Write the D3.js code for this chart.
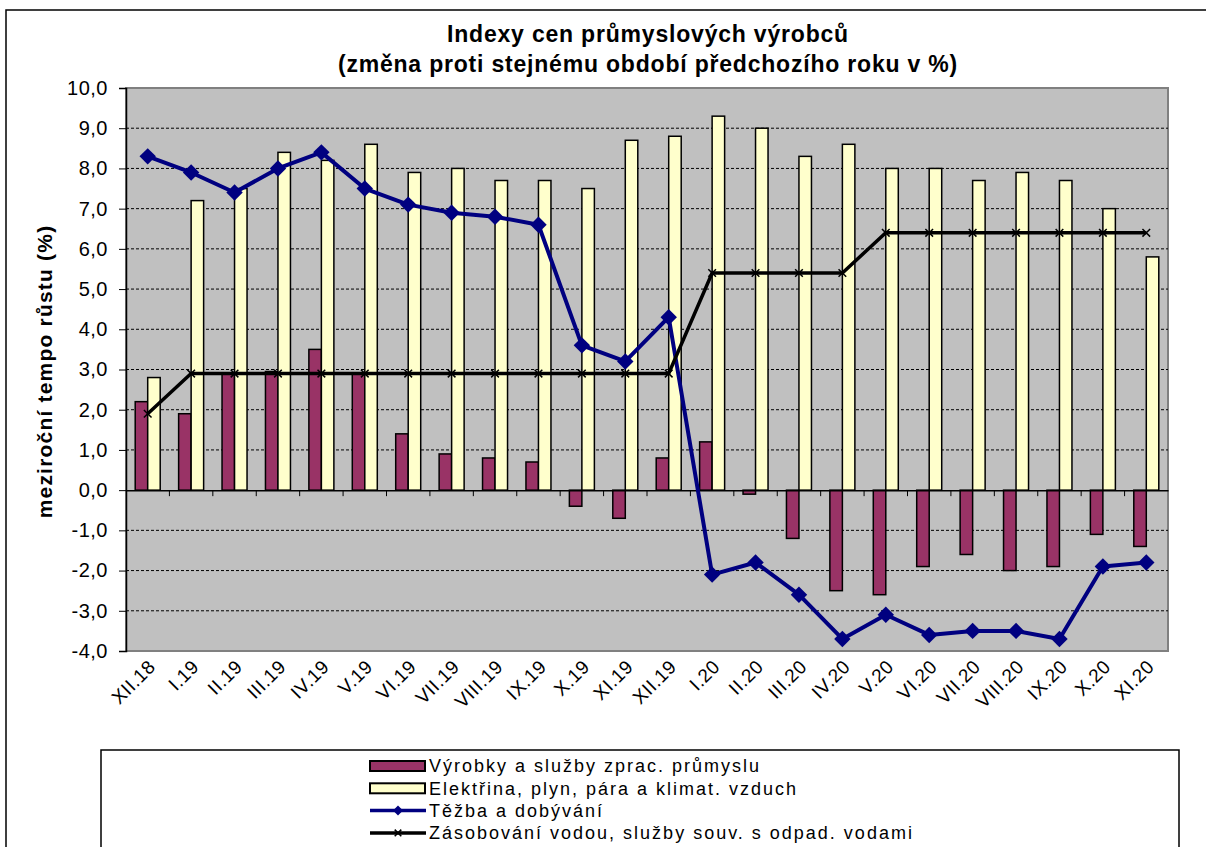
<!DOCTYPE html>
<html>
<head>
<meta charset="utf-8">
<script src="https://cdn.jsdelivr.net/npm/d3@7"></script>
<style>
  body { margin: 0; background: #fff; }
  text { font-family: "Liberation Sans", Arial, sans-serif; fill: #000; }
</style>
</head>
<body>
<div id="chart"></div>
<script>
// data
const months = ["XII.18", "I.19", "II.19", "III.19", "IV.19", "V.19", "VI.19", "VII.19", "VIII.19", "IX.19", "X.19", "XI.19",
    "XII.19", "I.20", "II.20", "III.20", "IV.20", "V.20", "VI.20", "VII.20", "VIII.20", "IX.20", "X.20", "XI.20"];
const vyrobky = [2.2, 1.9, 2.9, 2.95, 3.5, 2.9, 1.4, 0.9, 0.8, 0.7, -0.4, -0.7,
    0.8, 1.2, -0.1, -1.2, -2.5, -2.6, -1.9, -1.6, -2.0, -1.9, -1.1, -1.4];
const elektrina = [2.8, 7.2, 7.5, 8.4, 8.2, 8.6, 7.9, 8.0, 7.7, 7.7, 7.5, 8.7,
    8.8, 9.3, 9.0, 8.3, 8.6, 8.0, 8.0, 7.7, 7.9, 7.7, 7.0, 5.8];
const tezba = [8.3, 7.9, 7.4, 8.0, 8.4, 7.5, 7.1, 6.9, 6.8, 6.6, 3.6, 3.2,
    4.3, -2.1, -1.8, -2.6, -3.7, -3.1, -3.6, -3.5, -3.5, -3.7, -1.9, -1.8];
const voda = [1.9, 2.9, 2.9, 2.9, 2.9, 2.9, 2.9, 2.9, 2.9, 2.9, 2.9, 2.9,
    2.9, 5.4, 5.4, 5.4, 5.4, 6.4, 6.4, 6.4, 6.4, 6.4, 6.4, 6.4];
const yTicks = [-4, -3, -2, -1, 0, 1, 2, 3, 4, 5, 6, 7, 8, 9, 10];
const seriesNames = ["Výrobky a služby zprac. průmyslu", "Elektřina, plyn, pára a klimat. vzduch",
    "Těžba a dobývání", "Zásobování vodou, služby souv. s odpad. vodami"];
const titleLines = ["Indexy cen průmyslových výrobců", "(změna proti stejnému období předchozího roku v %)"];
const yTitle = "meziroční tempo růstu (%)";

const W = 1206, H = 847;
const plot = { left: 126, right: 1168, top: 88, bottom: 651 };
const colors = { vyrobky: "#993366", elektrina: "#FFFFCC", tezba: "#000080", voda: "#000000" };

const svg = d3.select("#chart")
    .append("svg")
    .attr("width", W)
    .attr("height", H);

// outer frame
svg.append("rect")
    .attr("x", 6).attr("y", 10)
    .attr("width", W + 20).attr("height", H + 20)
    .attr("fill", "#fff")
    .attr("stroke", "#000")
    .attr("stroke-width", 1.5);

// scales
const x = d3.scaleBand()
    .domain(months)
    .range([plot.left, plot.right]);

const y = d3.scaleLinear()
    .domain([-4, 10])
    .range([plot.bottom, plot.top]);

const cx = d => x(d) + x.bandwidth() / 2;
const barW = 12.5;

// plot background
svg.append("rect")
    .attr("x", plot.left).attr("y", plot.top)
    .attr("width", plot.right - plot.left)
    .attr("height", plot.bottom - plot.top)
    .attr("fill", "#C0C0C0")
    .attr("stroke", "#808080")
    .attr("stroke-width", 2);

// dashed gridlines
svg.append("g")
    .selectAll("line")
    .data(yTicks.filter(v => v !== 0 && v !== -4 && v !== 10))
    .join("line")
    .attr("x1", plot.left).attr("x2", plot.right)
    .attr("y1", d => y(d)).attr("y2", d => y(d))
    .attr("stroke", "#000")
    .attr("stroke-width", 1)
    .attr("stroke-dasharray", "3,2");

// Y axis
const yAxis = svg.append("g")
    .attr("transform", `translate(${plot.left},0)`)
    .call(d3.axisLeft(y)
        .tickValues(yTicks)
        .tickSize(7)
        .tickPadding(11)
        .tickFormat(d => d3.format(".1f")(d).replace(".", ",").replace("−", "-")));
yAxis.select(".domain").attr("stroke", "#000").attr("stroke-width", 1.5);
yAxis.selectAll(".tick line").attr("stroke", "#000");
yAxis.selectAll("text")
    .style("font-size", "20px")
    .style("letter-spacing", "0.5px")
    .style("font-family", "Liberation Sans, Arial, sans-serif")
    .attr("fill", "#000");

// bars
svg.append("g")
    .selectAll("rect")
    .data(months)
    .join("rect")
    .attr("x", (d, i) => cx(d) - barW)
    .attr("y", (d, i) => y(Math.max(0, vyrobky[i])))
    .attr("width", barW)
    .attr("height", (d, i) => Math.abs(y(vyrobky[i]) - y(0)))
    .attr("fill", colors.vyrobky)
    .attr("stroke", "#000")
    .attr("stroke-width", 1.5);

svg.append("g")
    .selectAll("rect")
    .data(months)
    .join("rect")
    .attr("x", (d, i) => cx(d))
    .attr("y", (d, i) => y(Math.max(0, elektrina[i])))
    .attr("width", barW)
    .attr("height", (d, i) => Math.abs(y(elektrina[i]) - y(0)))
    .attr("fill", colors.elektrina)
    .attr("stroke", "#000")
    .attr("stroke-width", 1.5);

// X axis at zero
const xAxis = svg.append("g")
    .attr("transform", `translate(0,${y(0)})`)
    .call(d3.axisBottom(x).tickSize(0).tickFormat(""));
xAxis.select(".domain").attr("stroke", "#000").attr("stroke-width", 1.5);

svg.append("g")
    .selectAll("line")
    .data(months.slice(1))
    .join("line")
    .attr("x1", d => x(d)).attr("x2", d => x(d))
    .attr("y1", y(0)).attr("y2", y(0) + 6)
    .attr("stroke", "#000");

// X labels below plot
svg.append("g")
    .selectAll("text")
    .data(months)
    .join("text")
    .attr("transform", d => `translate(${cx(d) + 9},${plot.bottom + 17}) rotate(-45)`)
    .attr("text-anchor", "end")
    .style("font-size", "19px")
    .style("letter-spacing", "0.5px")
    .text(d => d);

// lines
const line = d3.line()
    .x((d, i) => cx(months[i]))
    .y(d => y(d));

svg.append("path")
    .datum(tezba)
    .attr("d", line)
    .attr("fill", "none")
    .attr("stroke", colors.tezba)
    .attr("stroke-width", 4)
    .attr("stroke-linejoin", "round");

svg.append("g")
    .selectAll("path")
    .data(tezba)
    .join("path")
    .attr("d", d3.symbol(d3.symbolSquare, 135))
    .attr("transform", (d, i) => `translate(${cx(months[i])},${y(d)}) rotate(45)`)
    .attr("fill", colors.tezba);

svg.append("path")
    .datum(voda)
    .attr("d", line)
    .attr("fill", "none")
    .attr("stroke", colors.voda)
    .attr("stroke-width", 3.5);

svg.append("g")
    .selectAll("path")
    .data(voda)
    .join("path")
    .attr("d", d3.symbol(d3.symbolTimes || d3.symbolCross, 40))
    .attr("transform", (d, i) => `translate(${cx(months[i])},${y(d)})`)
    .attr("fill", "none")
    .attr("stroke", "#000")
    .attr("stroke-width", 1.5);

// titles
svg.append("g")
    .selectAll("text")
    .data(titleLines)
    .join("text")
    .attr("x", 648)
    .attr("y", (d, i) => 42 + i * 30)
    .attr("text-anchor", "middle")
    .style("font-size", "23px")
    .style("letter-spacing", "0.8px")
    .style("font-weight", "bold")
    .text(d => d);

svg.append("text")
    .attr("transform", `translate(52,${(plot.top + plot.bottom) / 2 + 2}) rotate(-90)`)
    .attr("text-anchor", "middle")
    .style("font-size", "21px")
    .style("letter-spacing", "1.2px")
    .style("font-weight", "bold")
    .text(yTitle);

// legend
svg.append("rect")
    .attr("x", 101).attr("y", 750)
    .attr("width", 1078).attr("height", 120)
    .attr("fill", "#fff")
    .attr("stroke", "#000")
    .attr("stroke-width", 1.5);

const legend = svg.append("g")
    .selectAll("g")
    .data(seriesNames)
    .join("g")
    .attr("transform", (d, i) => `translate(370,${766 + i * 22.3})`);

legend.filter((d, i) => i < 2)
    .append("rect")
    .attr("x", 0).attr("y", -5)
    .attr("width", 55).attr("height", 10)
    .attr("fill", (d, i) => i === 0 ? colors.vyrobky : colors.elektrina)
    .attr("stroke", "#000")
    .attr("stroke-width", 2);

legend.filter((d, i) => i >= 2)
    .append("line")
    .attr("x1", 0).attr("x2", 56)
    .attr("stroke", (d, i) => i === 0 ? colors.tezba : colors.voda)
    .attr("stroke-width", 3.5);

legend.filter((d, i) => i === 2)
    .append("path")
    .attr("d", d3.symbol(d3.symbolSquare, 50))
    .attr("transform", "translate(28,0) rotate(45)")
    .attr("fill", colors.tezba);

legend.filter((d, i) => i === 3)
    .append("path")
    .attr("d", d3.symbol(d3.symbolTimes || d3.symbolCross, 30))
    .attr("transform", "translate(28,0)")
    .attr("fill", "none")
    .attr("stroke", "#000")
    .attr("stroke-width", 1.5);

legend.append("text")
    .attr("x", 59)
    .attr("dy", "0.35em")
    .style("font-size", "18px")
    .style("letter-spacing", "2px")
    .text(d => d);
</script>
</body>
</html>
